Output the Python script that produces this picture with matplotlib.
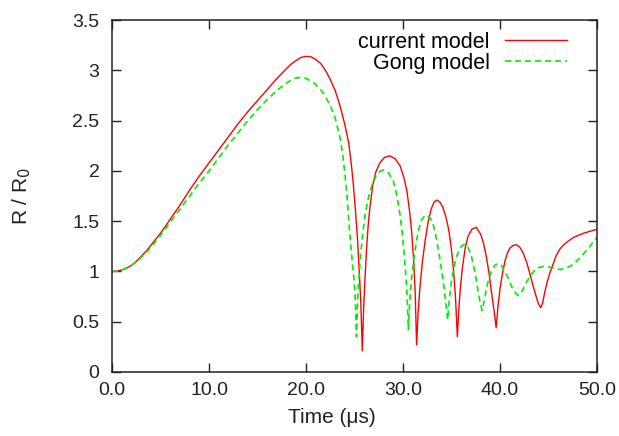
import matplotlib
matplotlib.use("Agg")
import matplotlib.pyplot as plt

# Current model: time (µs) and R/R0
t_current = [0, 0.5, 1, 1.5, 2, 2.5, 3, 3.5, 4, 5, 6, 7, 8, 9, 10, 11, 12, 13, 14, 15, 16, 17,
             18, 18.5, 19, 19.5, 20, 20.5, 21, 21.5, 22, 22.5, 23, 23.5, 24.0, 24.4, 24.7,
             24.9, 25.1, 25.3, 25.5, 25.65, 25.8,
             25.95, 26.1, 26.25, 26.4, 26.6, 26.9, 27.2, 27.6, 28.1, 28.65, 29.2, 29.7,
             30.1, 30.4, 30.7, 30.9, 31.1, 31.25, 31.4,
             31.55, 31.75, 32.0, 32.3, 32.6, 32.9, 33.2, 33.5, 33.8, 34.1, 34.4, 34.7,
             34.95, 35.2, 35.4, 35.6,
             35.75, 35.9, 36.1, 36.4, 36.7, 37.1, 37.55, 38.0, 38.3, 38.6, 38.9, 39.15,
             39.4, 39.6,
             39.8, 40.0, 40.25, 40.5, 40.75, 41.0, 41.35, 41.7, 42.05, 42.4, 42.75, 43.1,
             43.4, 43.7, 43.95, 44.2, 44.4, 44.6, 44.85, 45.15, 45.5, 45.8, 46.15, 46.5,
             47.0, 47.6, 48.1, 48.6, 49.3, 50.0]
r_current = [1.0, 1.003, 1.015, 1.035, 1.06, 1.10, 1.15, 1.20, 1.26, 1.38, 1.52, 1.66, 1.81, 1.95, 2.08, 2.21, 2.34, 2.47, 2.59, 2.70, 2.81, 2.92,
             3.02, 3.065, 3.10, 3.13, 3.14, 3.135, 3.11, 3.07, 3.00, 2.91, 2.80, 2.65, 2.46, 2.28, 2.04,
             1.84, 1.60, 1.33, 0.98, 0.68, 0.21,
             0.66, 0.97, 1.24, 1.45, 1.65, 1.87, 1.99, 2.08, 2.135, 2.15, 2.12, 2.05,
             1.93, 1.80, 1.58, 1.38, 1.10, 0.80, 0.27,
             0.58, 0.85, 1.10, 1.32, 1.50, 1.62, 1.69, 1.71, 1.69, 1.64, 1.55, 1.42,
             1.25, 1.02, 0.76, 0.35,
             0.62, 0.82, 1.02, 1.23, 1.35, 1.42, 1.44, 1.37, 1.28, 1.14, 0.96, 0.77,
             0.60, 0.44,
             0.66, 0.83, 0.98, 1.10, 1.18, 1.23, 1.26, 1.265, 1.24, 1.18, 1.09, 0.97,
             0.86, 0.76, 0.68, 0.64, 0.69, 0.79, 0.89, 0.99, 1.08, 1.16, 1.22, 1.26,
             1.30, 1.34, 1.36, 1.38, 1.40, 1.42]

# Gong model
t_gong = [0, 0.5, 1, 1.5, 2, 2.5, 3, 3.5, 4, 5, 6, 7, 8, 9, 10, 11, 12, 13, 14, 15, 16,
          17, 17.5, 18, 18.5, 19, 19.5, 20, 20.5, 21, 21.5, 22, 22.5, 23, 23.5, 23.8,
          24.0, 24.25, 24.5, 24.7, 24.9, 25.05, 25.2,
          25.35, 25.6, 25.85, 26.1, 26.45, 26.8, 27.2, 27.6, 28.0, 28.5, 29.0, 29.35,
          29.7, 29.95, 30.2, 30.4, 30.55,
          30.7, 30.9, 31.15, 31.4, 31.65, 31.9, 32.2, 32.5, 32.8, 33.1, 33.35, 33.6,
          33.9, 34.2, 34.4, 34.6,
          34.8, 35.0, 35.25, 35.5, 35.8, 36.1, 36.4, 36.7, 37.0, 37.25, 37.5, 37.75,
          37.95, 38.15,
          38.35, 38.6, 38.85, 39.1, 39.45, 39.8, 40.15, 40.5, 40.85, 41.2, 41.55, 41.9,
          42.25, 42.6, 42.95, 43.3, 43.65, 44.0, 44.5, 44.9, 45.3, 45.75, 46.2, 46.7,
          47.2, 47.7, 48.2, 48.65, 49.1, 49.55, 50.0]
r_gong = [1.0, 1.003, 1.015, 1.035, 1.06, 1.095, 1.14, 1.19, 1.24, 1.36, 1.49, 1.62, 1.75, 1.88, 2.0, 2.13, 2.26, 2.38, 2.50, 2.61, 2.71,
          2.80, 2.84, 2.875, 2.905, 2.925, 2.93, 2.92, 2.895, 2.86, 2.81, 2.74, 2.65, 2.53, 2.33, 2.15,
          1.98, 1.72, 1.39, 1.17, 0.96, 0.80, 0.35,
          0.78, 1.14, 1.38, 1.57, 1.74, 1.86, 1.95, 1.995, 2.01, 1.98, 1.90, 1.76,
          1.56, 1.35, 1.08, 0.80, 0.42,
          0.72, 0.95, 1.15, 1.31, 1.43, 1.51, 1.55, 1.56, 1.53, 1.47, 1.37, 1.24,
          1.06, 0.86, 0.70, 0.52,
          0.75, 0.91, 1.04, 1.14, 1.22, 1.26, 1.27, 1.24, 1.17, 1.07, 0.94, 0.80,
          0.69, 0.61,
          0.70, 0.83, 0.93, 1.00, 1.06, 1.08, 1.06, 1.00, 0.93, 0.85, 0.79, 0.76,
          0.80, 0.87, 0.93, 0.98, 1.02, 1.04, 1.05, 1.045, 1.04, 1.025, 1.02, 1.03,
          1.05, 1.085, 1.13, 1.18, 1.23, 1.285, 1.34]

x_ticks = [0, 10, 20, 30, 40, 50]
x_tick_labels = ["0.0", "10.0", "20.0", "30.0", "40.0", "50.0"]
y_ticks = [0, 0.5, 1, 1.5, 2, 2.5, 3, 3.5]
y_tick_labels = ["0", "0.5", "1", "1.5", "2", "2.5", "3", "3.5"]

plt.rcParams['font.family'] = ['Liberation Sans', 'DejaVu Sans']

fig = plt.figure(figsize=(6.19, 4.36), dpi=100)
ax = fig.add_axes([0.181, 0.1468, 0.7835, 0.807])

ax.plot(t_current, r_current, color='#ff0000', lw=1.0, label='current model')
ax.plot(t_gong, r_gong, color='#00ee00', lw=1.2, dashes=(3.6, 2.4), label='Gong model')

ax.set_xlim(0, 50)
ax.set_ylim(0, 3.5)
ax.set_xticks(x_ticks)
ax.set_xticklabels(x_tick_labels)
ax.set_yticks(y_ticks)
ax.set_yticklabels(y_tick_labels)
ax.tick_params(direction='in', length=6.5, width=1.0, top=True, right=True,
               labelsize=14, colors='#222222', pad=7)
ax.tick_params(axis='y', pad=9)
for s in ax.spines.values():
    s.set_linewidth(1.1)
    s.set_color('#222222')

ax.set_xlabel('Time (μs)', fontsize=15, color='#222222')
ax.xaxis.set_label_coords(0.4526, -0.103)
ax.set_ylabel('R / R$_0$', fontsize=15, color='#222222')
ax.yaxis.set_label_coords(-0.163, 0.5)

leg = ax.legend(loc='upper right', frameon=False, markerfirst=False, fontsize=15.5,
                handlelength=2.9, handletextpad=0.7, labelspacing=0.0,
                bbox_to_anchor=(0.97, 1.01), borderaxespad=0.3)

fig.savefig('out.png', dpi=100)
